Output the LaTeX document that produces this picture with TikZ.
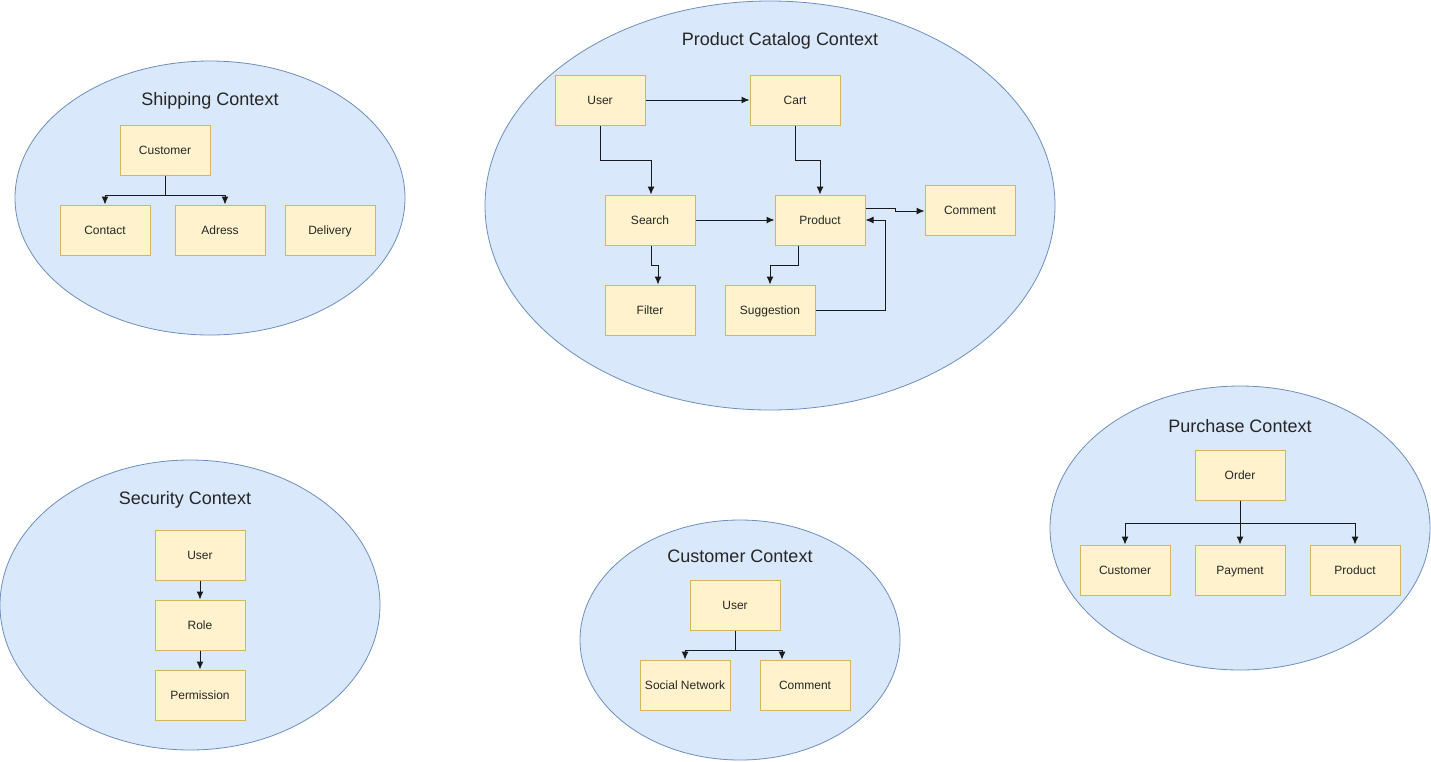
\documentclass[tikz,border=0pt]{standalone}
\usepackage{fontspec}
\setmainfont{Liberation Sans}
\usetikzlibrary{shapes.geometric,arrows.meta}
\definecolor{ctxfill}{HTML}{DAE8FC}
\definecolor{ctxline}{HTML}{6C8EBF}
\definecolor{boxfill}{HTML}{FFF2CC}
\definecolor{boxline}{HTML}{D6B656}
\definecolor{edgeline}{HTML}{1A1A1A}
\begin{document}
\begin{tikzpicture}
	[x=1pt,y=-1pt,
	ctx/.style={ellipse,draw=ctxline,fill=ctxfill,line width=0.8pt,inner sep=0pt},
	title/.style={font=\fontsize{18}{21}\selectfont,text=black!85},
	box/.style={rectangle,draw=boxline,fill=boxfill,line width=1pt,minimum width=90pt,minimum height=50pt,inner sep=0pt,text height=9pt,text depth=1pt,font=\fontsize{12}{14}\selectfont,text=black!85},
	edge/.style={->,draw=edgeline,line width=1pt},>={Latex[length=8pt,width=7pt]}]
	\useasboundingbox (0,0) rectangle (1431,761);
	% contexts
	\node[ctx,name=shipping,minimum width=390pt,minimum height=274pt] at (210,198) {};
	\node[ctx,name=catalog,minimum width=570pt,minimum height=409pt] at (770,205.5) {};
	\node[ctx,name=security,minimum width=380pt,minimum height=290pt] at (190,605) {};
	\node[ctx,name=customer,minimum width=320pt,minimum height=240pt] at (740,640) {};
	\node[ctx,name=purchase,minimum width=380pt,minimum height=284pt] at (1240,528) {};
	\node[title,name=shippingtitle] at (210,101) {Shipping Context};
	\node[title,name=catalogtitle] at (780,41) {Product Catalog Context};
	\node[title,name=securitytitle] at (185,500) {Security Context};
	\node[title,name=customertitle] at (740,556) {Customer Context};
	\node[title,name=purchasetitle] at (1240,426) {Purchase Context};
	% shipping
	\node[box,name=scustomer] at (165,150) {Customer};
	\node[box,name=scontact] at (105,230) {Contact};
	\node[box,name=sadress] at (220,230) {Adress};
	\node[box,name=sdelivery] at (330,230) {Delivery};
	\draw[edge] (scustomer.south) -- ++(0,20) -| (scontact.north);
	\draw[edge] (scustomer.south) -- ++(0,20) -| ([xshift=5pt]sadress.north);
	% product catalog
	\node[box,name=puser] at (600,100) {User};
	\node[box,name=pcart] at (795,100) {Cart};
	\node[box,name=psearch] at (650,220) {Search};
	\node[box,name=pproduct] at (820,220) {Product};
	\node[box,name=pcomment] at (970,210) {Comment};
	\node[box,name=pfilter] at (650,310) {Filter};
	\node[box,name=psuggestion] at (770,310) {Suggestion};
	\draw[edge] (puser.east) -- (pcart.west);
	\draw[edge] (puser.south) -- ++(0,35) -| ([xshift=1pt]psearch.north);
	\draw[edge] (pcart.south) -- ++(0,35) -| (pproduct.north);
	\draw[edge] (psearch.east) -- (pproduct.west);
	\draw[edge] ([yshift=12pt]pproduct.east) -- ++(30,0) |- ([yshift=-1pt]pcomment.west);
	\draw[edge] ([xshift=1pt]psearch.south) -- ++(0,20) -| ([xshift=8pt]pfilter.north);
	\draw[edge] ([xshift=-22pt]pproduct.south) -- ++(0,20) -| (psuggestion.north);
	\draw[edge] (psuggestion.east) -- ++(70,0) |- (pproduct.east);
	% security
	\node[box,name=suser] at (200,555) {User};
	\node[box,name=srole] at (200,625) {Role};
	\node[box,name=spermission] at (200,695) {Permission};
	\draw[edge] (suser) -- (srole);
	\draw[edge] (srole) -- (spermission);
	% customer
	\node[box,name=cuser] at (735,605) {User};
	\node[box,name=csocial] at (685,685) {Social Network};
	\node[box,name=ccomment] at (805,685) {Comment};
	\draw[edge] (cuser.south) -- ++(0,20) -| (csocial.north);
	\draw[edge] (cuser.south) -- ++(0,20) -| ([xshift=-23pt]ccomment.north);
	% purchase
	\node[box,name=order] at (1240,475) {Order};
	\node[box,name=ucustomer] at (1125,570) {Customer};
	\node[box,name=upayment] at (1240,570) {Payment};
	\node[box,name=uproduct] at (1355,570) {Product};
	\draw[edge] (order.south) -- ++(0,23) -| (ucustomer.north);
	\draw[edge] (order.south) -- (upayment.north);
	\draw[edge] (order.south) -- ++(0,23) -| (uproduct.north);
\end{tikzpicture}
\end{document}
